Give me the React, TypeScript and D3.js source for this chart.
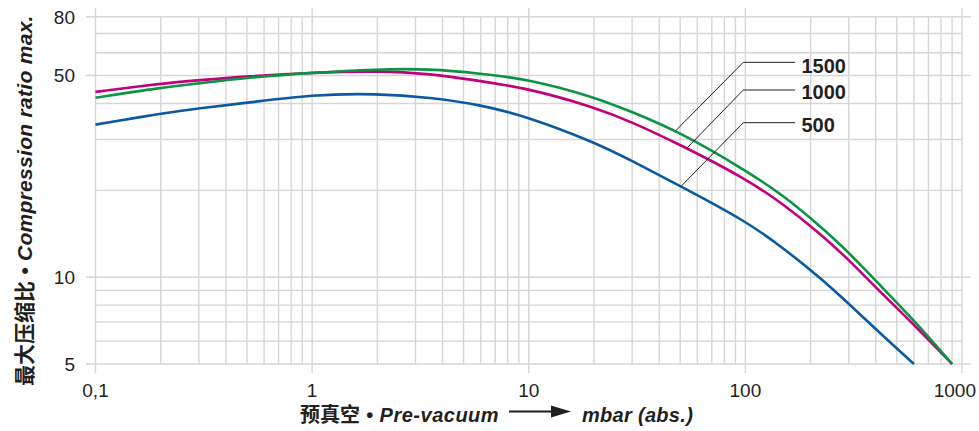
import React from "react";
import * as d3 from "d3";

const pressure = [0.1, 0.2, 0.3, 0.5, 1, 2, 3.5, 6, 10, 20, 30, 50, 100, 150, 220, 300, 400, 600, 900];
const series500 = [33.8, 36.9, 38.5, 40.2, 43.0, 43.3, 42.0, 39.6, 35.9, 29.4, 25.3, 20.7, 15.7, 12.6, 10.0, 8.1, 6.6, 5.0, null];
const series1000 = [43.9, 46.9, 48.2, 49.7, 51.2, 51.9, 50.8, 47.8, 45.1, 38.9, 34.5, 28.8, 22.0, 17.9, 14.2, 11.5, 9.2, 6.85, 5.0];
const series1500 = [41.9, 45.4, 47.0, 49.2, 51.2, 52.6, 52.8, 50.8, 48.6, 42.2, 37.4, 31.8, 23.5, 19.2, 15.1, 12.2, 9.7, 7.1, 5.0];
const seriesNames = ["500", "1000", "1500"];
const seriesColors = ["#0b5aa0", "#c2007b", "#0c9444"];
const xTickValues = [0.1, 1, 10, 100, 1000];
const xTickLabels = ["0,1", "1", "10", "100", "1000"];
const yTickValues = [5, 10, 50, 80];
const yTickLabels = ["5", "10", "50", "80"];
// leader anchor pressures on each curve
const leaderAt = [50.4, 53.7, 47.8];

const W = 979, H = 431;
const FONT = "'Liberation Sans', Arial, Helvetica, sans-serif";
const CJK = "'Noto Sans CJK SC', 'Liberation Sans', sans-serif";

export default function App() {
  const x = d3.scaleLog().domain([0.1, 1000]).range([95.5, 962]);
  const y = d3.scaleLog().domain([5, 80]).range([364, 16.7]);
  const allSeries = [series500, series1000, series1500];

  const minorX: number[] = [];
  for (let d = 0.1; d < 1000; d *= 10) for (let k = 1; k <= 10; k++) minorX.push(+(d * k).toPrecision(3));
  const xs = Array.from(new Set(minorX));
  const ys = [5, 6, 7, 8, 9, 10, 20, 30, 40, 50, 60, 70, 80];

  const line = d3
    .line<[number, number]>()
    .x((d) => x(d[0]))
    .y((d) => y(d[1]))
    .curve(d3.curveBasis);

  const interpAt = (s: (number | null)[], p: number) => {
    const pts = pressure.map((pp, i) => [pp, s[i]] as [number, number | null]).filter((d) => d[1] != null) as [number, number][];
    for (let i = 0; i < pts.length - 1; i++) {
      if (p >= pts[i][0] && p <= pts[i + 1][0]) {
        const t = (Math.log(p) - Math.log(pts[i][0])) / (Math.log(pts[i + 1][0]) - Math.log(pts[i][0]));
        return Math.exp(Math.log(pts[i][1]) + t * (Math.log(pts[i + 1][1]) - Math.log(pts[i][1])));
      }
    }
    return pts[0][1];
  };

  const labelY = [122.7, 90, 62.3];
  const labelBase = [132, 98.5, 72.5];

  return (
    <div style={{ position: "absolute", left: 0, top: 0 }}>
      <svg width={W} height={H} style={{ display: "block", background: "#fff" }}>
        <g stroke="#d6d6d6" strokeWidth={1.4}>
          {xs.map((v) => {
            const major = xTickValues.includes(v);
            return (
              <line key={"vx" + v} x1={x(v)} x2={x(v)} y1={major ? 8 : y(80)} y2={major ? 373 : y(5)} />
            );
          })}
          {ys.map((v) => {
            const major = yTickValues.includes(v);
            return <line key={"hy" + v} x1={major ? 86 : x(0.1)} x2={major ? 971 : x(1000)} y1={y(v)} y2={y(v)} />;
          })}
        </g>
        {allSeries.map((s, i) => {
          const pts = pressure.map((p, j) => [p, s[j]] as [number, number | null]).filter((d) => d[1] != null) as [number, number][];
          return <path key={seriesNames[i]} d={line(pts) || ""} fill="none" stroke={seriesColors[i]} strokeWidth={2.6} />;
        })}
        {allSeries.map((s, i) => {
          const p = leaderAt[i];
          const px = x(p), py = y(interpAt(s, p));
          return (
            <g key={"ld" + i}>
              <polyline points={`${px},${py} 743.3,${labelY[i]} 795,${labelY[i]}`} fill="none" stroke="#231f20" strokeWidth={1} />
              <text x={801.5} y={labelBase[i]} fontFamily={FONT} fontWeight="bold" fontSize={20} fill="#231f20">
                {seriesNames[i]}
              </text>
            </g>
          );
        })}
        <g fontFamily={FONT} fontSize={19} fill="#231f20">
          {yTickValues.map((v, i) => (
            <text key={"yt" + v} x={75} y={y(v)} dy="0.36em" textAnchor="end">
              {yTickLabels[i]}
            </text>
          ))}
          {xTickValues.map((v, i) => {
            const last = i === xTickValues.length - 1;
            return (
              <text key={"xt" + v} x={last ? 976 : x(v)} y={397} textAnchor={last ? "end" : "middle"}>
                {xTickLabels[i]}
              </text>
            );
          })}
        </g>
        <text x={300} y={422} fontSize={20} fill="#231f20" fontWeight="bold">
          <tspan fontFamily={CJK}>预真空</tspan>
          <tspan fontFamily={FONT} fontStyle="italic" letterSpacing={0.5}> • Pre-vacuum</tspan>
        </text>
        <line x1={509} x2={556} y1={411.5} y2={411.5} stroke="#231f20" strokeWidth={2} />
        <path d="M551,405.5 L571,411.5 L551,417.5 Z" fill="#231f20" />
        <text x={582} y={422} fontSize={20} fill="#231f20" fontWeight="bold" fontFamily={FONT} fontStyle="italic" letterSpacing={0.3}>
          mbar (abs.)
        </text>
        <text transform="translate(32,386) rotate(-90)" fontSize={21} fill="#231f20" fontWeight="bold">
          <tspan fontFamily={CJK}>最大压缩比</tspan>
          <tspan fontFamily={FONT} fontStyle="italic" letterSpacing={0.3}> • Compression ratio max.</tspan>
        </text>
      </svg>
    </div>
  );
}
